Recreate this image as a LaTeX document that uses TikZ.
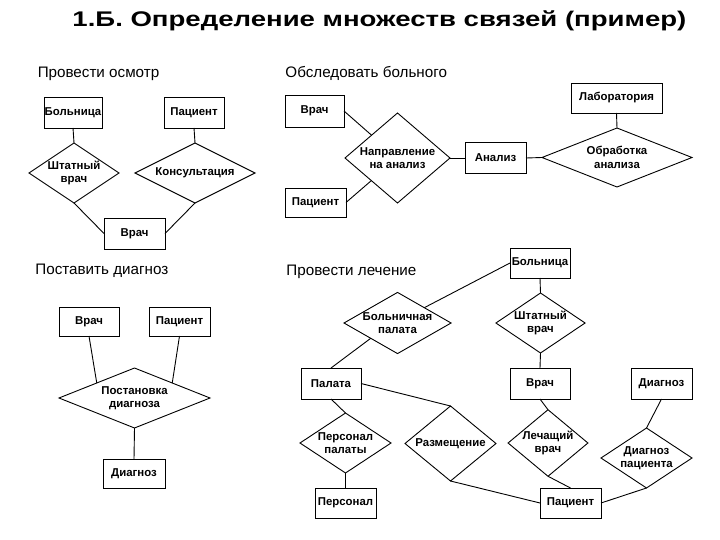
\documentclass[tikz,border=0pt]{standalone}
\usepackage{fontspec}
\setmainfont{Liberation Sans}
\newfontfamily\titlefont[FakeStretch=1.30]{Liberation Sans}
\usetikzlibrary{shapes.geometric,calc}
\begin{document}
\begin{tikzpicture}[x=1pt,y=-1pt,line width=0.9pt,
  ent/.style={draw,rectangle,inner sep=0pt,outer sep=0pt,align=center,
    font=\bfseries\fontsize{11.4}{13.5}\selectfont},
  rel/.style={draw,diamond,inner sep=0pt,outer sep=0pt,align=center,
    font=\bfseries\fontsize{11.4}{13.5}\selectfont},
  sect/.style={anchor=base west,inner sep=0pt,font=\fontsize{15.2}{18}\selectfont},
  conn/.style={draw,line width=0.9pt}]
\useasboundingbox (0,0) rectangle (720,540);
\fill[white] (0,0) rectangle (720,540);

\node[anchor=base west,inner sep=0pt,font=\titlefont\bfseries\fontsize{21.2}{24}\selectfont] (title) at (72,27) {1.Б. Определение множеств связей (пример)};

\node[sect] (s1) at (37.3,78) {Провести осмотр};
\node[sect] (s2) at (285,78) {Обследовать больного};
\node[sect] (s3) at (35,274.3) {Поставить диагноз};
\node[sect] (s4) at (286,275.7) {Провести лечение};

% top-left
\node[ent,minimum width=58,minimum height=31] (tlHosp) at (73,112.5) {Больница};
\node[ent,minimum width=60,minimum height=31] (tlPat) at (194,112.5) {Пациент};
\node[rel,minimum width=90,minimum height=60,aspect=1.5] (tlStaff) at (74,173) {Штатный\\врач};
\node[rel,minimum width=120,minimum height=60,aspect=2] (tlCons) at (195,173) {Консультация};
\node[ent,minimum width=61,minimum height=31] (tlDoc) at (134.5,233.5) {Врач};
\path[conn] (tlHosp.south) -- (tlStaff.north);
\path[conn] (tlPat.south) -- (tlCons.north);
\path[conn] (tlStaff.south) -- (tlDoc.west);
\path[conn] (tlCons.south) -- (tlDoc.east);

% top-right
\node[ent,minimum width=59,minimum height=32] (trDoc) at (314.5,111) {Врач};
\node[ent,minimum width=61,minimum height=29] (trPat) at (315.5,202.5) {Пациент};
\node[rel,minimum width=105,minimum height=90,aspect=1.17] (trRef) at (397.5,158) {Направление\\на анализ};
\node[ent,minimum width=61,minimum height=31] (trAn) at (495.5,158) {Анализ};
\node[ent,minimum width=91,minimum height=30] (trLab) at (616.5,98) {Лаборатория};
\node[rel,minimum width=150,minimum height=59,aspect=2.5] (trProc) at (617,157.5) {Обработка\\анализа};
\path[conn] (trDoc.east) -- (trRef);
\path[conn] (trPat.east) -- (trRef);
\path[conn] (trRef.east) -- (trAn.west);
\path[conn] (trAn.east) -- (trProc.west);
\path[conn] (trLab.south) -- (trProc.north);

% bottom-left
\node[ent,minimum width=60,minimum height=29] (blDoc) at (89,321.5) {Врач};
\node[ent,minimum width=61,minimum height=29] (blPat) at (179.5,321.5) {Пациент};
\node[rel,minimum width=151,minimum height=60,aspect=2.5] (blDiag) at (134.5,398) {Постановка\\диагноза};
\node[ent,minimum width=62,minimum height=29] (blRes) at (134,473.5) {Диагноз};
\path[conn] (blDoc.south) -- ($(blDiag.north)!0.5!(blDiag.west)$);
\path[conn] (blPat.south) -- ($(blDiag.north)!0.5!(blDiag.east)$);
\path[conn] (blDiag.south) -- (blRes.north);

% bottom-right
\node[ent,minimum width=60,minimum height=30] (brHosp) at (540,263) {Больница};
\node[rel,minimum width=105,minimum height=60,aspect=1.75] (brWard) at (397.5,323) {Больничная\\палата};
\node[rel,minimum width=89,minimum height=60,aspect=1.5] (brStaff) at (540.5,323) {Штатный\\врач};
\node[ent,minimum width=60,minimum height=31] (brRoom) at (331,383.5) {Палата};
\node[ent,minimum width=60,minimum height=31] (brDoc) at (540,383.5) {Врач};
\node[ent,minimum width=61,minimum height=31] (brDiag) at (661.5,383.5) {Диагноз};
\node[rel,minimum width=91,minimum height=60,aspect=1.5] (brWStaff) at (345.5,443) {Персонал\\палаты};
\node[rel,minimum width=91,minimum height=75,aspect=1.2] (brPlace) at (450.5,443.5) {Размещение};
\node[rel,minimum width=74,minimum height=60,aspect=1.2] (brTreat) at (548,443) {Лечащий\\врач};
\node[rel,minimum width=91,minimum height=60,aspect=1.5] (brDP) at (646.5,458) {Диагноз\\пациента};
\node[ent,minimum width=61,minimum height=30] (brStaffP) at (345.5,503) {Персонал};
\node[ent,minimum width=61,minimum height=30] (brPat) at (570.5,503) {Пациент};
\path[conn] (brHosp.west) -- ($(brWard.north)!0.5!(brWard.east)$);
\path[conn] ($(brWard.west)!0.5!(brWard.south)$) -- (brRoom.north);
\path[conn] (brHosp.south) -- (brStaff.north);
\path[conn] (brStaff.south) -- (brDoc.north);
\path[conn] (brRoom.south) -- (brWStaff.north);
\path[conn] (brWStaff.south) -- (brStaffP.north);
\path[conn] (brRoom.east) -- (brPlace.north);
\path[conn] (brPlace.south) -- (brPat.west);
\path[conn] (brDoc.south) -- (brTreat.north);
\path[conn] (brTreat.south) -- (brPat.north);
\path[conn] (brDiag.south) -- (brDP.north);
\path[conn] (brDP.south) -- (brPat.east);
\end{tikzpicture}
\end{document}
